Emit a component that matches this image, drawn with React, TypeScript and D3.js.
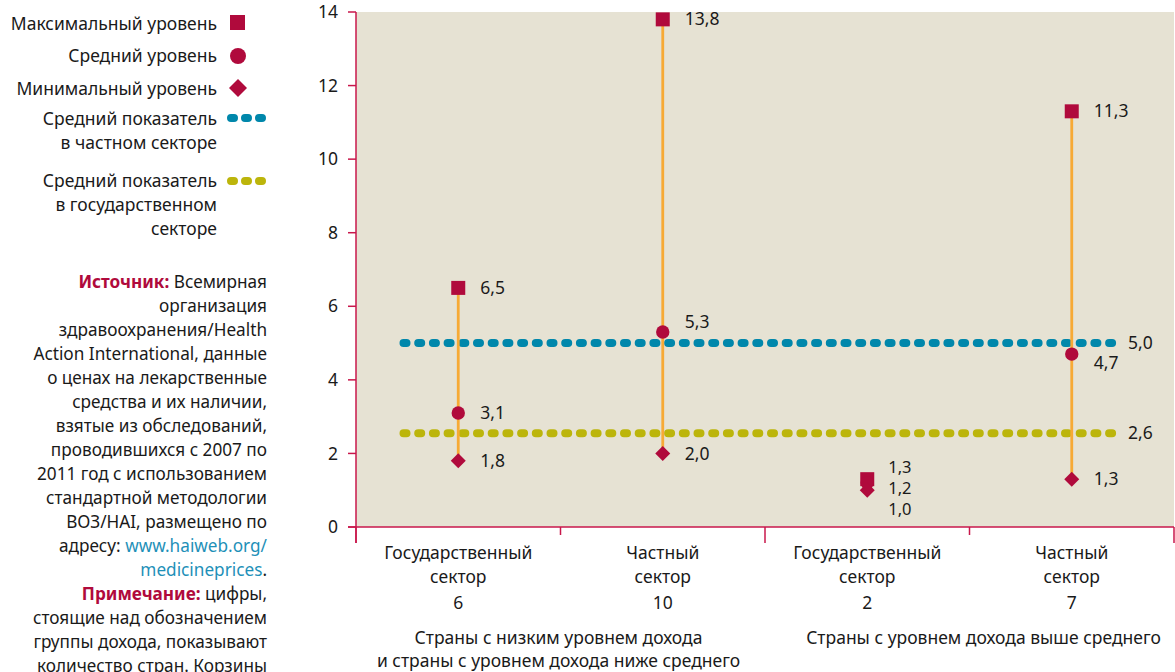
import React from "react";
import * as d3 from "d3";

const categories = ["Государственный|сектор", "Частный|сектор", "Государственный|сектор", "Частный|сектор"];
const countryCounts = [6, 10, 2, 7];
const maxValues = [6.5, 13.8, 1.3, 11.3];
const meanValues = [3.1, 5.3, 1.2, 4.7];
const minValues = [1.8, 2.0, 1.0, 1.3];
const privateAvg = 5.0;
const publicAvg = 2.55;
const yTicks = [0, 2, 4, 6, 8, 10, 12, 14];
const groupLabels = [
  ["Страны с низким уровнем дохода", "и страны с уровнем дохода ниже среднего"],
  ["Страны с уровнем дохода выше среднего"],
];
const legendItems = [
  "Максимальный уровень",
  "Средний уровень",
  "Минимальный уровень",
];
const sourceLines = [
  "организация",
  "здравоохранения/Health",
  "Action International, данные",
  "о ценах на лекарственные",
  "средства и их наличии,",
  "взятые из обследований,",
  "проводившихся с 2007 по",
  "2011 год с использованием",
  "стандартной методологии",
  "ВОЗ/HAI, размещено по",
];
const noteLines = [
  "стоящие над обозначением",
  "группы дохода, показывают",
  "количество стран. Корзины",
];

const CRIMSON = "#B00A3C";
const AXIS = "#C8174B";
const ORANGE = "#F7AA35";
const BLUE = "#0087AB";
const OLIVE = "#BCB50B";
const BG = "#E6E2D3";
const TEXT = "#1a1a1a";
const FONT = "'Noto Sans', 'Open Sans', sans-serif";

const fmt = (v: number) => (Math.round(v * 10) / 10).toFixed(1).replace(".", ",");

function Diamond({ x, y, r }: { x: number; y: number; r: number }) {
  return <path d={`M${x},${y - r}L${x + r},${y}L${x},${y + r}L${x - r},${y}Z`} fill={CRIMSON} />;
}

export default function App() {
  const left = 356, right = 1174, top = 12, bottom = 527;
  const x = d3.scaleBand<number>().domain(d3.range(categories.length)).range([left, right]).padding(0);
  const y = d3.scaleLinear().domain([0, 14]).range([bottom, top]);
  const cx = (i: number) => (x(i) as number) + x.bandwidth() / 2;
  const fs = 17.5;
  const fsSrc = 17.2;

  const labelPos = (i: number, kind: "max" | "mean" | "min") => {
    const v = kind === "max" ? maxValues[i] : kind === "mean" ? meanValues[i] : minValues[i];
    let lx = cx(i) + 22;
    let ly = y(v);
    let size = fs;
    if (i === 1 && kind === "mean") { ly -= 10; }
    if (i === 3 && kind === "mean") { ly += 9; }
    if (i === 2) {
      lx = cx(i) + 21;
      size = 16.5;
      ly = y(1.2) + (kind === "max" ? -15.5 : kind === "mean" ? 5.5 : 26.5);
    }
    return { lx, ly, size, text: fmt(v) };
  };

  const dotLine = (yy: number, color: string, key: string) => (
    <line key={key} x1={403.5} x2={1113} y1={yy} y2={yy} stroke={color} strokeWidth={8}
      strokeLinecap="round" strokeDasharray="3 11.7" />
  );

  return (
    <svg width={1175} height={672} style={{ position: "absolute", left: 0, top: 0, fontFamily: FONT }}>
      <rect x={0} y={0} width={1175} height={672} fill="#fff" />
      <rect x={left} y={top} width={right - left} height={bottom - top} fill={BG} />

      {dotLine(y(privateAvg), BLUE, "pa")}
      {dotLine(y(publicAvg), OLIVE, "pu")}
      <text x={1128} y={y(privateAvg)} dy="0.35em" fontSize={fs} fill={TEXT}>{fmt(privateAvg)}</text>
      <text x={1128} y={y(publicAvg)} dy="0.35em" fontSize={fs} fill={TEXT}>{fmt(publicAvg)}</text>

      {categories.map((_, i) => (
        <line key={"r" + i} x1={cx(i)} x2={cx(i)} y1={y(maxValues[i])} y2={y(minValues[i])} stroke={ORANGE} strokeWidth={2.8} />
      ))}
      {categories.map((_, i) => (
        <g key={"m" + i}>
          <rect x={cx(i) - 7} y={y(maxValues[i]) - 7} width={14} height={14} fill={CRIMSON} />
          <circle cx={cx(i)} cy={y(meanValues[i])} r={6.7} fill={CRIMSON} />
          <Diamond x={cx(i)} y={y(minValues[i])} r={7.5} />
        </g>
      ))}
      {categories.map((_, i) =>
        (["max", "mean", "min"] as const).map((k) => {
          const p = labelPos(i, k);
          return (
            <text key={"l" + i + k} x={p.lx} y={p.ly} dy="0.35em" fontSize={p.size} fill={TEXT}>{p.text}</text>
          );
        })
      )}

      <line x1={left} x2={left} y1={top} y2={543} stroke={AXIS} strokeWidth={1.5} />
      {yTicks.map((t) => (
        <g key={"yt" + t}>
          <line x1={348} x2={left} y1={y(t)} y2={y(t)} stroke={AXIS} strokeWidth={1.5} />
          <text x={338} y={y(t)} dy="0.35em" textAnchor="end" fontSize={fs} fill={TEXT}>{t}</text>
        </g>
      ))}
      <line x1={348} x2={right} y1={bottom} y2={bottom} stroke={AXIS} strokeWidth={1.5} />
      {d3.range(categories.length + 1).map((i) => {
        const xx = i < categories.length ? (x(i) as number) : right;
        const long = i % 2 === 0;
        return <line key={"xt" + i} x1={xx} x2={xx} y1={bottom} y2={long ? 543 : 535} stroke={AXIS} strokeWidth={1.5} />;
      })}
      {categories.map((c, i) => (
        <g key={"c" + i} fontSize={fs} fill={TEXT} textAnchor="middle">
          {c.split("|").map((ln, j) => (
            <text key={j} x={cx(i)} y={553 + j * 24} dy="0.35em">{ln}</text>
          ))}
          <text x={cx(i)} y={603} dy="0.35em">{countryCounts[i]}</text>
        </g>
      ))}
      {groupLabels.map((g, gi) => {
        const gx = gi === 0 ? (cx(0) + cx(1)) / 2 - 2 : (cx(2) + cx(3)) / 2 + 14;
        return (
          <g key={"g" + gi} fontSize={fs} fill={TEXT} textAnchor="middle">
            {g.map((ln, j) => (
              <text key={j} x={gx} y={638 + j * 23} dy="0.35em">{ln}</text>
            ))}
          </g>
        );
      })}

      <g fontSize={fs} fill={TEXT} textAnchor="end">
        <text x={217} y={24} dy="0.35em">{legendItems[0]}</text>
        <rect x={230} y={15} width={15} height={15} fill={CRIMSON} />
        <text x={217} y={56} dy="0.35em">{legendItems[1]}</text>
        <circle cx={238} cy={56} r={8} fill={CRIMSON} />
        <text x={217} y={89} dy="0.35em">{legendItems[2]}</text>
        <Diamond x={238} y={88} r={9} />
        <text x={217} y={119} dy="0.35em">Средний показатель</text>
        <text x={217} y={143} dy="0.35em">в частном секторе</text>
        <line x1={231} x2={262} y1={118} y2={118} stroke={BLUE} strokeWidth={8} strokeLinecap="round" strokeDasharray="3 11" />
        <text x={217} y={181} dy="0.35em">Средний показатель</text>
        <text x={217} y={205} dy="0.35em">в государственном</text>
        <text x={217} y={229} dy="0.35em">секторе</text>
        <line x1={231} x2={262} y1={181} y2={181} stroke={OLIVE} strokeWidth={8} strokeLinecap="round" strokeDasharray="3 11" />
      </g>

      <g fontSize={fsSrc} fill={TEXT} textAnchor="end">
        <text x={267} y={282} dy="0.35em">
          <tspan fill={CRIMSON} fontWeight="bold">Источник:</tspan>
          <tspan>{"  Всемирная"}</tspan>
        </text>
        {sourceLines.map((ln, j) => (
          <text key={"s" + j} x={267} y={306 + j * 24} dy="0.35em">{ln}</text>
        ))}
        <text x={267} y={546} dy="0.35em">
          <tspan>{"адресу:  "}</tspan>
          <tspan fill="#1E90B8">www.haiweb.org/</tspan>
        </text>
        <text x={267} y={570} dy="0.35em">
          <tspan fill="#1E90B8">medicineprices</tspan>
          <tspan>.</tspan>
        </text>
        <text x={267} y={594} dy="0.35em">
          <tspan fill={CRIMSON} fontWeight="bold">Примечание:</tspan>
          <tspan>{"  цифры,"}</tspan>
        </text>
        {noteLines.map((ln, j) => (
          <text key={"n" + j} x={267} y={618 + j * 24} dy="0.35em">{ln}</text>
        ))}
      </g>
    </svg>
  );
}
